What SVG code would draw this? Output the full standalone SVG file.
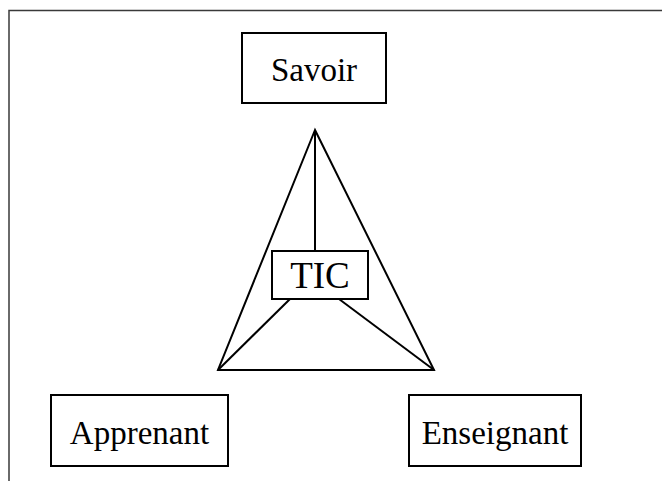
<svg xmlns="http://www.w3.org/2000/svg" width="662" height="481" viewBox="0 0 662 481">
  <style>
    .box { fill: #ffffff; stroke: #000000; stroke-width: 2; }
    .lbl { font-family: "Liberation Serif", "Times New Roman", serif; font-size: 33px; fill: #000000; text-anchor: middle; }
    .edge { stroke: #000000; stroke-width: 2; fill: none; }
    .frame { stroke: #3a3a3a; stroke-width: 1.5; fill: none; }
  </style>
  <rect width="662" height="481" fill="#ffffff"/>
  <!-- page frame: top and left border -->
  <path class="frame" d="M9 481 V10.5 H662"/>

  <g id="connectors">
    <!-- triangle -->
    <path class="edge" d="M315 130 L218 370 L434 370 Z"/>
    <!-- spokes to TIC -->
    <line class="edge" x1="315" y1="130" x2="315" y2="251"/>
    <line class="edge" x1="218" y1="370" x2="290" y2="299"/>
    <line class="edge" x1="434" y1="370" x2="339" y2="299"/>
  </g>

  <g id="savoir">
    <rect class="box" x="242" y="33" width="144" height="70"/>
    <text class="lbl" x="314" y="81">Savoir</text>
  </g>

  <g id="tic">
    <rect class="box" x="272" y="251" width="96" height="48"/>
    <text class="lbl" x="320" y="288" style="font-size:37px">TIC</text>
  </g>

  <g id="apprenant">
    <rect class="box" x="51" y="395" width="177" height="71"/>
    <text class="lbl" x="139.5" y="444">Apprenant</text>
  </g>

  <g id="enseignant">
    <rect class="box" x="409" y="395" width="172" height="71"/>
    <text class="lbl" x="495" y="444">Enseignant</text>
  </g>
</svg>
